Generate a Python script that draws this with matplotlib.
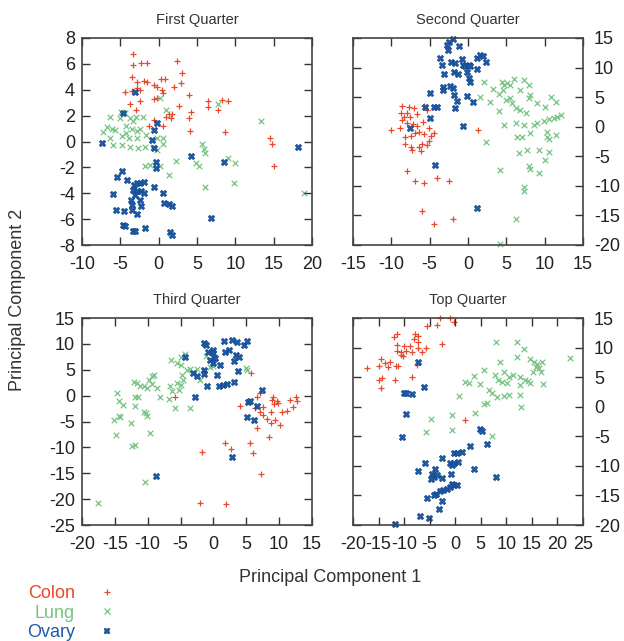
import numpy as np
import matplotlib
matplotlib.use("Agg")
import matplotlib.pyplot as plt
from matplotlib.lines import Line2D

plt.rcParams["font.family"] = ["Liberation Sans", "DejaVu Sans"]
plt.rcParams["axes.unicode_minus"] = False

red = "#e8482c"
green = "#76c383"
blue = "#1b58a8"

# ---------- First Quarter ----------
q1_colon = [(-3.3, 6.8), (-3.3, 5.9), (-2.3, 6.1), (-1.5, 6.05), (2.4, 6.2), (3.0, 5.3),
            (-3.5, 5.0), (-2.8, 4.6), (-1.9, 4.7), (-1.5, 4.6), (0.35, 4.85), (0.8, 4.85),
            (2.95, 4.55), (2.0, 4.25), (-4.35, 3.8), (-3.5, 3.9), (-2.8, 4.1), (-2.5, 4.0),
            (-0.65, 4.4), (-0.2, 4.2), (0.45, 4.0), (0.5, 3.75), (-0.6, 3.3), (-0.2, 3.35),
            (4.0, 3.6), (4.25, 2.3), (-2.4, 3.1), (-3.8, 2.9), (-2.9, 2.45), (2.6, 2.75),
            (1.3, 2.1), (1.7, 2.1), (1.6, 1.8), (1.0, 1.9), (-0.6, 1.7), (-1.2, 1.2),
            (0.55, 1.2), (4.0, 1.8), (4.1, 0.8), (6.4, 3.1), (6.4, 2.65), (8.3, 3.2),
            (9.1, 3.1), (7.8, 2.45), (8.6, 0.7), (14.5, 0.25), (14.8, -0.2), (15.0, -1.9)]
q1_lung = [(-6.3, 1.9), (-6.7, 1.15), (-6.1, 1.0), (-5.65, 0.9), (-7.3, 0.7), (-6.3, 0.25),
           (-5.95, -0.25), (-4.9, 2.3), (-4.35, 2.2), (-5.0, 1.8), (-3.7, 1.8), (-3.0, 1.9),
           (-3.35, 1.55), (-4.2, 1.2), (-3.5, 1.0), (-2.8, 0.8), (-2.5, 1.0), (-2.0, 1.9),
           (-4.2, 0.65), (-4.8, 0.4), (-4.8, -0.25), (-3.9, 0.25), (-2.8, 0.25), (-3.7, -0.4),
           (-2.7, -0.5), (-1.75, -0.4), (-0.7, -0.4), (-0.2, -0.65), (-1.6, 0.5), (-0.2, 0.25),
           (0.2, 3.35), (0.9, 2.45), (0.55, 0.3), (0.55, -0.2), (-1.75, -1.9), (-1.1, -1.8),
           (0.2, -1.9), (2.3, -1.5), (1.4, -2.6), (5.65, -0.2), (5.9, -0.6), (6.1, -0.9),
           (4.9, -1.7), (5.2, -1.9), (7.8, 2.9), (9.1, -1.3), (10.0, -1.7), (6.0, -3.5),
           (9.8, -3.2), (13.3, 1.6), (19.0, -3.95)]
q1_ovary = [(-7.4, -0.1), (-4.6, 2.2), (-3.05, 3.8), (-0.2, 1.4), (-0.65, 0.9), (-0.9, 0.1),
            (-0.6, -0.5), (-0.35, -1.55), (-0.3, -2.05), (4.25, -1.1), (8.5, -1.6), (18.2, -0.4),
            (6.8, -5.9), (-4.8, -2.25), (-5.4, -2.75), (-4.1, -2.95), (-5.9, -4.05), (-3.25, -3.35),
            (-2.8, -3.2), (-2.4, -3.2), (-1.85, -3.1), (-3.35, -3.75), (-2.8, -3.8), (-2.3, -3.85),
            (-1.95, -4.0), (-3.05, -4.1), (-3.6, -4.5), (-3.5, -4.9), (-2.4, -4.5), (-0.65, -3.55),
            (0.55, -3.95), (0.65, -4.75), (1.3, -4.8), (1.7, -5.0), (-3.5, -5.3), (-2.8, -5.6),
            (-2.3, -5.0), (-5.5, -5.3), (-4.55, -5.4), (-4.6, -6.45), (-4.35, -6.5), (-3.35, -6.9),
            (-3.05, -6.9), (-1.75, -6.65), (1.5, -7.0), (1.8, -7.2)]

# ---------- Second Quarter ----------
q2_colon = [(-10.1, -0.6), (-8.6, 3.5), (-7.7, 3.4), (-7.1, 3.1), (-8.8, 2.4), (-7.95, 2.3),
            (-8.4, 1.7), (-7.6, 1.7), (-6.65, 2.15), (-5.7, 3.5), (-5.4, 2.8), (-8.6, 1.1),
            (-7.95, 0.7), (-7.2, 0.45), (-8.9, -0.3), (-6.65, 0.1), (-5.9, 0.85), (-5.1, -0.3),
            (-8.2, -1.7), (-7.4, -1.6), (-6.9, -1.1), (-6.4, -0.9), (-5.7, -1.25), (-4.8, -1.6),
            (-4.5, -1.1), (-8.25, -2.85), (-7.4, -3.4), (-7.3, -3.95), (-6.4, -3.4), (-6.0, -2.85),
            (-5.4, -3.1), (-5.1, -2.4), (-6.1, -4.1), (-7.95, -7.5), (-6.9, -9.1), (-5.8, -9.5),
            (-4.05, -8.6), (-2.5, -9.2), (-6.0, -14.2), (-4.4, -16.4), (-1.9, -15.6), (1.25, -0.6)]
q2_lung = [(2.1, 7.5), (1.6, 5.1), (3.3, 6.3), (4.4, 7.6), (4.7, 7.1), (5.1, 7.35), (5.5, 7.1),
           (6.0, 8.0), (4.6, 6.2), (4.1, 5.5), (2.9, 4.25), (4.1, 2.7), (4.9, 4.5), (5.5, 4.8),
           (5.7, 4.0), (6.2, 3.1), (6.8, 6.2), (7.3, 7.9), (7.9, 7.1), (8.1, 5.4), (8.0, 4.8),
           (9.0, 3.95), (6.8, 2.8), (7.6, 2.25), (10.1, 3.4), (10.8, 5.1), (11.5, 4.25),
           (12.1, 2.0), (11.6, 1.7), (11.2, 1.4), (10.5, 1.25), (9.9, 1.0), (9.0, 0.7), (8.6, 0.3),
           (7.3, 0.3), (6.3, 0.6), (4.7, 0.3), (10.3, -0.85), (11.5, -1.4), (8.1, -1.1),
           (7.0, -1.7), (6.4, -1.7), (10.3, -1.7), (10.5, -2.0), (2.3, -2.55), (7.7, -4.0),
           (6.6, -4.5), (9.3, -4.0), (10.6, -4.25), (10.1, -5.65), (7.9, -6.7), (8.1, -7.1),
           (9.2, -7.8), (4.2, -7.35), (7.3, -10.2), (7.3, -10.8), (6.2, -15.6), (4.2, -19.8)]
q2_ovary = [(-2.0, 14.9), (-2.5, 14.4), (-2.7, 13.9), (-1.2, 13.7), (-2.65, 13.0), (-3.7, 11.6),
            (-3.4, 10.5), (-2.2, 10.9), (-1.75, 10.8), (-0.8, 11.4), (-0.65, 10.5), (-0.35, 10.3),
            (0.1, 10.5), (0.3, 10.3), (1.2, 11.6), (1.6, 12.2), (2.0, 12.0), (2.3, 11.0),
            (-3.1, 8.9), (-1.8, 9.3), (-1.35, 8.9), (-0.1, 9.2), (1.2, 9.7), (0.1, 8.2), (0.3, 7.5),
            (-3.3, 6.7), (-1.9, 6.5), (-3.2, 6.2), (-1.85, 5.4), (-1.5, 4.4), (-0.1, 5.2),
            (0.65, 4.1), (-1.65, 3.1), (-4.9, 5.65), (-5.55, 3.3), (-4.5, 3.3), (-4.05, 3.4),
            (-4.9, 1.5), (-7.6, -0.3), (-0.65, 0.1), (-4.35, -6.5), (1.2, -13.8), (-2.3, 6.9)]

# ---------- Third Quarter ----------
q3_colon = [(-5.8, -0.2), (-1.7, -10.8), (-2.0, -20.7), (1.9, -21.0), (1.7, -9.2), (2.6, -10.4),
            (5.5, -9.1), (6.0, -11.1), (5.7, 4.4), (4.1, -2.0), (7.1, 0.5), (6.6, -0.2),
            (6.4, -2.4), (7.1, -3.1), (7.6, -3.7), (8.7, -3.1), (7.6, -2.2), (9.1, -0.3),
            (8.9, -0.8), (9.2, -1.6), (9.6, -1.1), (9.9, -1.4), (8.2, -4.6), (8.7, -5.2),
            (9.4, -4.8), (10.2, -5.6), (10.4, -3.1), (11.2, -2.9), (11.7, -0.8), (12.1, -2.2),
            (12.5, -0.2), (12.7, -1.1), (6.7, -6.3), (8.4, -7.9), (7.2, -15.2)]
q3_lung = [(-17.5, -20.7), (-10.4, -16.6), (-9.6, -7.3), (-11.9, -9.5), (-12.4, -9.8),
           (-14.8, -7.6), (-15.2, -4.8), (-14.4, -4.0), (-14.2, -4.2), (-12.6, -5.2), (-14.7, 0.5),
           (-14.4, -1.1), (-13.7, -1.8), (-11.9, -2.1), (-10.6, -3.1), (-10.2, -3.4), (-10.1, -3.9),
           (-12.1, 2.7), (-11.6, 2.4), (-11.1, 1.9), (-11.9, -0.3), (-11.5, -0.3), (-10.6, 1.8),
           (-10.1, 1.5), (-9.85, 3.1), (-9.3, 3.7), (-9.0, 4.0), (-9.3, 2.3), (-8.6, 1.5),
           (-8.1, -0.3), (-6.8, -0.7), (-6.6, 1.8), (-6.3, 0.8), (-6.4, 6.9), (-5.6, 6.3),
           (-5.0, 7.5), (-4.4, 8.1), (-5.0, 6.0), (-4.8, 4.0), (-4.6, 3.1), (-5.5, 2.4),
           (-5.0, 2.1), (-5.3, 1.1), (-5.8, -2.4), (-3.6, -2.4), (-4.0, 5.0), (-3.5, 5.1),
           (-2.5, 5.1), (-2.1, 3.1), (-1.2, 7.7), (-0.5, 5.5), (0.0, 5.8), (4.9, 5.3), (5.1, 5.0)]
q3_ovary = [(-8.8, -15.6), (-4.3, 7.5), (-3.1, 4.4), (-2.75, -0.2), (-2.5, 3.7), (-1.5, 10.2),
            (-1.2, 9.8), (-1.5, 5.0), (-1.4, 4.2), (-1.0, 1.8), (-0.8, 8.5), (-0.55, 6.9),
            (0.0, 8.9), (0.0, 8.2), (0.3, 7.3), (-0.1, 6.4), (0.5, 3.9), (0.8, 1.9), (1.05, 6.0),
            (1.5, 2.1), (2.1, 2.3), (2.8, 10.8), (2.3, 8.9), (1.6, 10.5), (1.8, 8.5), (3.1, 2.7),
            (3.1, 6.6), (3.6, 10.3), (3.5, 7.9), (3.9, 7.5), (3.7, 4.7), (4.6, 9.8), (5.1, 10.5),
            (2.8, -11.8), (5.1, -4.2), (5.2, -1.2), (5.6, -1.0), (6.6, -2.0), (6.1, -4.7), (7.4, 1.1)]

# ---------- Top Quarter ----------
q4_colon = [(-2.9, 15.0), (-1.0, 15.0), (-0.2, 14.3), (-5.5, 13.6), (-3.6, 13.9), (-11.3, 12.3),
            (-12.0, 11.8), (-7.8, 12.3), (-7.3, 12.0), (-8.1, 11.4), (-7.3, 11.0), (-2.6, 10.6),
            (-11.3, 10.5), (-10.1, 10.3), (-8.8, 10.2), (-7.2, 9.9), (-5.8, 9.9), (-11.4, 9.5),
            (-10.7, 9.2), (-9.6, 9.5), (-8.5, 9.3), (-6.5, 9.3), (-10.7, 8.8), (-10.2, 8.6),
            (-12.7, 7.6), (-14.5, 8.1), (-15.0, 6.9), (-13.7, 7.4), (-13.1, 6.7), (-11.5, 6.9),
            (-11.1, 6.9), (-7.5, 7.1), (-17.3, 6.5), (-15.0, 4.6), (-14.3, 4.8), (-11.7, 4.6),
            (-8.5, 5.1), (-14.5, 3.1), (2.0, -2.2)]
q4_lung = [(8.05, 11.0), (12.0, 11.0), (13.5, 9.7), (12.1, 8.4), (8.8, 7.6), (14.7, 8.0),
           (15.4, 7.5), (16.0, 7.2), (17.0, 7.5), (15.9, 6.7), (16.3, 6.5), (16.7, 5.9),
           (15.2, 5.9), (22.4, 8.2), (5.6, 6.2), (3.6, 5.2), (7.8, 5.4), (9.5, 5.9), (10.6, 5.1),
           (11.4, 5.4), (12.7, 5.1), (13.7, 4.5), (14.2, 4.4), (8.3, 4.5), (9.15, 4.2),
           (10.1, 4.0), (12.7, 3.7), (14.7, 4.0), (17.2, 3.85), (2.0, 4.25), (2.6, 4.0),
           (4.9, 3.85), (0.7, 1.8), (6.55, 2.8), (7.2, 2.25), (8.2, 1.6), (9.5, 1.8), (10.5, 2.0),
           (12.7, 2.0), (5.6, 0.45), (6.2, 0.7), (12.8, -0.1), (3.9, -1.0), (-0.6, -1.4),
           (-4.7, -2.15), (-0.6, -3.9), (-5.8, -4.25), (7.2, -5.0)]
q4_ovary = [(-7.2, 7.5), (-6.2, 3.4), (-10.1, 2.4), (-9.6, 2.4), (-8.5, 2.1), (-9.6, -1.25),
            (-10.4, -5.2), (4.9, -3.7), (5.2, -4.1), (6.2, -6.3), (2.8, -6.7), (1.3, -7.65),
            (-0.3, -7.9), (0.35, -7.9), (-2.6, -8.7), (-1.1, -9.6), (-0.6, -9.9), (-0.2, -9.5),
            (0.5, -9.3), (-6.0, -9.6), (-7.2, -10.9), (-3.9, -10.6), (-4.5, -11.3), (-4.1, -11.9),
            (-4.8, -12.2), (-3.6, -11.5), (-2.6, -12.0), (-0.8, -11.4), (3.6, -10.5), (7.9, -11.8),
            (-0.6, -13.0), (-0.2, -13.3), (0.35, -13.3), (-1.1, -13.6), (-1.6, -13.9), (-2.3, -14.0),
            (-2.9, -14.3), (-3.7, -14.7), (-4.1, -15.0), (-5.6, -15.4), (-2.6, -16.0), (-3.2, -17.3),
            (-6.8, -18.4), (-5.2, -18.8), (-11.7, -19.9)]

titles = ["First Quarter", "Second Quarter", "Third Quarter", "Top Quarter"]
xlims = [(-10, 20), (-15, 15), (-20, 15), (-20, 25)]
ylims = [(-8, 8), (-20, 15), (-25, 15), (-20, 15)]
yticks_step = [2, 5, 5, 5]
data = [(q1_colon, q1_lung, q1_ovary), (q2_colon, q2_lung, q2_ovary),
        (q3_colon, q3_lung, q3_ovary), (q4_colon, q4_lung, q4_ovary)]

W, H = 624, 641
fig = plt.figure(figsize=(W / 100, H / 100), dpi=100)

# axes boxes in pixels (left, top, right, bottom)
boxes = [(82, 38, 312, 245), (353, 38, 583, 245), (82, 318, 312, 525), (353, 318, 583, 525)]

for i, (l, t, r, b) in enumerate(boxes):
    ax = fig.add_axes([l / W, 1 - b / H, (r - l) / W, (b - t) / H])
    colon, lung, ovary = [np.array(d) for d in data[i]]
    ax.scatter(colon[:, 0], colon[:, 1], marker="+", s=22, c=red, linewidths=0.9, clip_on=False)
    ax.scatter(lung[:, 0], lung[:, 1], marker="x", s=16, c=green, linewidths=0.9, clip_on=False)
    ax.scatter(ovary[:, 0], ovary[:, 1], marker="X", s=24, c=blue, linewidths=0.3,
               edgecolors="#12407e", clip_on=False)
    ax.set_xlim(*xlims[i])
    ax.set_ylim(*ylims[i])
    ax.set_xticks(np.arange(xlims[i][0], xlims[i][1] + 1, 5))
    ax.set_yticks(np.arange(ylims[i][0], ylims[i][1] + 1, yticks_step[i]))
    ax.tick_params(direction="in", length=6, width=1, top=True, right=True,
                   labelsize=13, colors="#333333", labelcolor="#222222")
    ax.tick_params(axis="x", pad=8)
    ax.tick_params(axis="y", pad=5)
    if i % 2 == 1:
        ax.tick_params(axis="y", labelleft=False, labelright=True, pad=8)
    for sp in ax.spines.values():
        sp.set_color("#444444")
        sp.set_linewidth(1.2)
    ax.set_title(titles[i], fontsize=10.5, color="#333333", pad=10)

fig.text(330 / W, 1 - 578 / H, "Principal Component 1", ha="center", va="center",
         fontsize=13, color="#333333")
fig.text(18 / W, 1 - 300 / H, "Principal Component 2", ha="center", va="center",
         rotation=90, fontsize=13, color="#333333")

handles = [Line2D([], [], ls="none", marker="+", color=red, ms=4.5, mew=0.9),
           Line2D([], [], ls="none", marker="x", color=green, ms=4, mew=0.9),
           Line2D([], [], ls="none", marker="X", color=blue, ms=4.5, mew=0.3, mec="#12407e")]
leg = fig.legend(handles, ["Colon", "Lung", "Ovary"], loc="upper left",
                 bbox_to_anchor=(27 / W, 1 - 585 / H), frameon=False, markerfirst=False,
                 fontsize=13, handlelength=1.2, handletextpad=1.2, labelspacing=0.14,
                 borderpad=0, borderaxespad=0, labelcolor="linecolor")
leg.get_texts()[2].set_color("#1e5aa8")

fig.savefig("out.png", dpi=100)
